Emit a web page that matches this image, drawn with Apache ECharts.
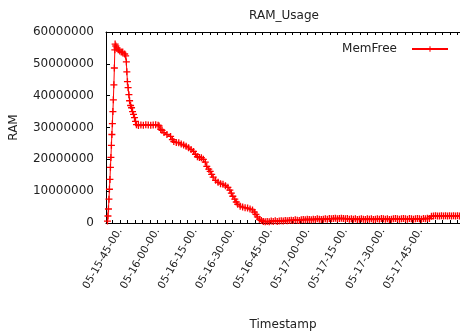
<!DOCTYPE html>
<html>
<head>
<meta charset="utf-8">
<script src="https://cdn.jsdelivr.net/npm/echarts@6/dist/echarts.min.js"></script>
<style>
  html, body { margin: 0; padding: 0; background: #fff; }
  #chart { width: 460px; height: 336px; }
</style>
</head>
<body>
<div id="chart"></div>
<script>
// Sample times, in minutes since midnight of day 05
const sampleMinutes = [
  940.09, 940.28, 940.48, 940.68, 940.87, 941.07, 941.27, 941.46, 941.66, 941.85,
  942.05, 942.25, 942.44, 942.64, 942.84, 943.03, 943.15,
  943.43, 943.82, 944.41, 945.00, 945.59, 946.17, 946.96, 947.35, 947.63, 947.82,
  948.06, 948.33, 948.65, 948.92, 949.32, 949.71, 950.10, 950.49, 950.89, 951.28,
  951.67, 952.46,
  953.44, 954.42, 955.40, 956.38, 957.37, 958.35, 959.33, 960.31, 960.70,
  961.37, 961.88, 962.67, 963.84, 965.30, 966.01, 966.59, 967.58, 968.56, 969.54,
  970.52, 971.50, 972.49, 973.47, 974.45, 975.23, 976.02, 976.80, 977.59, 978.38,
  979.16, 979.75, 980.54, 981.12, 981.71, 982.30, 983.28, 984.27, 985.25, 986.23,
  987.21, 988.19, 988.98, 989.57, 990.16, 990.94, 991.53, 992.12, 993.10, 994.08,
  995.06, 996.05, 997.03, 998.01, 998.80, 999.39, 999.97, 1000.76, 1001.55, 1002.33,
  1003.1, 1003.9, 1004.7, 1005.5, 1006.3, 1007.1, 1007.9, 1008.7, 1009.5, 1010.3,
  1011.1, 1011.9, 1012.7, 1013.5, 1014.3, 1015.1, 1015.9, 1016.7, 1017.5, 1018.3,
  1019.1, 1019.9, 1020.7, 1021.5, 1022.3, 1023.1, 1023.9, 1024.7, 1025.5, 1026.3,
  1027.1, 1027.9, 1028.7, 1029.5, 1030.3, 1031.1, 1031.9, 1032.7, 1033.5, 1034.3,
  1035.1, 1035.9, 1036.7, 1037.5, 1038.3, 1039.1, 1039.9, 1040.7, 1041.5, 1042.3,
  1043.1, 1043.9, 1044.7, 1045.5, 1046.3, 1047.1, 1047.9, 1048.7, 1049.5, 1050.3,
  1051.1, 1051.9, 1052.7, 1053.5, 1054.3, 1055.1, 1055.9, 1056.7, 1057.5, 1058.3,
  1059.1, 1059.9, 1060.7, 1061.5, 1062.3, 1063.1, 1063.9, 1064.7, 1065.5, 1066.3,
  1067.1, 1067.9, 1068.7, 1069.5, 1070.3, 1071.1, 1071.9, 1072.7, 1073.5, 1074.3,
  1075.1, 1075.9, 1076.7, 1077.5, 1078.3, 1079.1, 1079.9, 1080.7
];

// Free memory at each sample
const memFree = [
  600000, 2200000, 4400000, 7500000, 10600000, 13700000, 17500000, 20600000, 24400000, 27800000,
  31200000, 35000000, 38700000, 43400000, 48700000, 54400000, 56200000,
  55600000, 55000000, 54400000, 54000000, 53700000, 53700000, 53100000, 52500000, 50600000, 47500000,
  44400000, 42500000, 40300000, 38400000, 36900000, 36200000, 35000000, 34100000, 33100000, 31900000,
  30900000, 30600000,
  30800000, 30700000, 30900000, 30800000, 30700000, 30800000, 30900000, 30700000, 30500000,
  29400000, 29100000, 28400000, 27800000, 27200000, 26200000, 25600000, 25300000, 25200000, 24800000,
  24500000, 24100000, 23600000, 23100000, 22500000, 21600000, 20800000, 20600000, 20500000, 20000000,
  19100000, 17800000, 16900000, 16200000, 15300000, 14400000, 13400000, 12800000, 12300000, 12200000,
  11700000, 11200000, 10300000, 9400000, 8400000, 7500000, 6600000, 5900000, 5300000, 5000000,
  4800000, 4700000, 4400000, 4100000, 3400000, 2700000, 1900000, 1200000, 800000, 500000,
  400000, 500000, 400000, 600000, 500000, 700000, 500000, 600000, 700000, 600000,
  800000, 700000, 800000, 900000, 800000, 1000000, 900000, 800000, 1000000, 1100000,
  1000000, 1200000, 1100000, 1000000, 1200000, 1100000, 1300000, 1200000, 1100000, 1200000,
  1300000, 1200000, 1400000, 1300000, 1400000, 1500000, 1300000, 1400000, 1500000, 1400000,
  1300000, 1400000, 1200000, 1300000, 1200000, 1300000, 1100000, 1200000, 1300000, 1200000,
  1100000, 1300000, 1200000, 1300000, 1100000, 1200000, 1300000, 1200000, 1400000, 1300000,
  1200000, 1300000, 1100000, 1200000, 1300000, 1400000, 1300000, 1200000, 1300000, 1400000,
  1300000, 1200000, 1400000, 1300000, 1200000, 1300000, 1400000, 1300000, 1200000, 1400000,
  1300000, 1500000, 1400000, 2100000, 2200000, 2300000, 2200000, 2200000, 2300000, 2200000,
  2300000, 2200000, 2300000, 2200000, 2300000, 2200000, 2300000, 2200000
];

// Labelled timestamps on the time axis
const tickMinutes = [945, 960, 975, 990, 1005, 1020, 1035, 1050, 1065];
const tickLabels = [
  '05-15-45-00.', '05-16-00-00.', '05-16-15-00.', '05-16-30-00.', '05-16-45-00.',
  '05-17-00-00.', '05-17-15-00.', '05-17-30-00.', '05-17-45-00.'
];

const xMin = 939.5;
const xMax = 1080.9;

// small tick marks every 3 minutes along the time axis
const minorTicks = [];
for (let m = 945 - 3; m <= xMax; m += 3) if (m >= xMin) minorTicks.push(m);

const FONT = 'DejaVu Sans';
const plusSymbol = 'path://M3,0h1.4v7.4h-1.4zM0,3h7.4v1.4h-7.4z';

const chart = echarts.init(document.getElementById('chart'), null, { renderer: 'canvas' });

chart.setOption({
  animation: false,
  backgroundColor: '#fff',
  textStyle: { fontFamily: FONT },
  title: {
    text: 'RAM_Usage',
    left: 279,
    top: 5,
    textAlign: 'center',
    textStyle: { fontFamily: FONT, fontSize: 12, fontWeight: 'normal', color: '#222' }
  },
  legend: {
    data: ['MemFree'],
    right: 6,
    top: 38,
    align: 'right',
    itemWidth: 36,
    itemHeight: 7,
    textStyle: { fontFamily: FONT, fontSize: 12, color: '#222', padding: [0, 10, 0, 0] }
  },
  grid: { left: 106, right: -6, top: 32, bottom: 112 },
  xAxis: [
    {
      type: 'value',
      position: 'bottom',
      min: xMin,
      max: xMax,
      name: 'Timestamp',
      nameLocation: 'middle',
      nameGap: 96,
      nameTextStyle: { fontFamily: FONT, fontSize: 12, color: '#222' },
      axisLine: { show: true, lineStyle: { color: '#000', width: 1 } },
      axisTick: { show: true, inside: true, length: 3, customValues: minorTicks, lineStyle: { color: '#000' } },
      axisLabel: {
        customValues: tickMinutes,
        rotate: 60,
        margin: 6,
        fontFamily: FONT,
        fontSize: 10.5,
        color: '#222',
        formatter: function (v) {
          const i = tickMinutes.findIndex(function (t) { return Math.abs(t - v) < 0.01; });
          return i >= 0 ? tickLabels[i] : '';
        }
      },
      splitLine: { show: false }
    },
    {
      type: 'value',
      position: 'top',
      min: xMin,
      max: xMax,
      axisLine: { show: true, lineStyle: { color: '#000', width: 1 } },
      axisTick: { show: true, inside: true, length: 3, customValues: minorTicks, lineStyle: { color: '#000' } },
      axisLabel: { show: false },
      splitLine: { show: false }
    }
  ],
  yAxis: {
    type: 'value',
    min: 0,
    max: 60000000,
    interval: 10000000,
    name: 'RAM',
    nameLocation: 'middle',
    nameGap: 86,
    nameTextStyle: { fontFamily: FONT, fontSize: 12, color: '#222' },
    axisLine: { show: true, lineStyle: { color: '#000', width: 1 } },
    axisTick: { show: true, inside: true, length: 4, lineStyle: { color: '#000' } },
    axisLabel: {
      margin: 12,
      fontFamily: FONT,
      fontSize: 12,
      color: '#222',
      formatter: function (v) { return String(v); }
    },
    splitLine: { show: false }
  },
  series: [{
    name: 'MemFree',
    type: 'line',
    xAxisIndex: 0,
    data: sampleMinutes.map(function (t, i) { return [t, memFree[i]]; }),
    symbol: plusSymbol,
    symbolSize: 7,
    showSymbol: true,
    showAllSymbol: true,
    color: '#f00',
    lineStyle: { color: '#f00', width: 1 },
    itemStyle: { color: '#f00' },
    clip: true
  }]
});
</script>
</body>
</html>
